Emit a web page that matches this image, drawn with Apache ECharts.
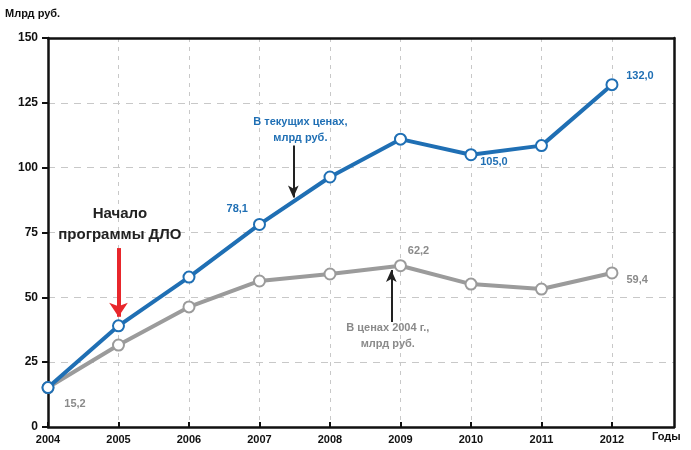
<!DOCTYPE html>
<html>
<head>
<meta charset="utf-8">
<script src="https://cdn.jsdelivr.net/npm/echarts@6/dist/echarts.min.js"></script>
<style>html,body{margin:0;padding:0;background:#fff}#c{width:691px;height:450px}</style>
</head>
<body>
<div id="c"></div>
<script>
// Годы и объёмы финансирования, млрд руб.
const years = [2004, 2005, 2006, 2007, 2008, 2009, 2010, 2011, 2012];
const currentPrices = [15.2, 39.0, 57.8, 78.1, 96.4, 111.0, 105.0, 108.5, 132.0];
const prices2004 = [15.2, 31.6, 46.3, 56.3, 59.0, 62.2, 55.1, 53.2, 59.4];
const yTicks = [0, 25, 50, 75, 100, 125, 150];

// Подписи значений у отдельных точек: индекс -> [положение, сдвиг]
const currentLabels = { 3: ['left', [0, -15]], 6: ['bottom', [23, -10]], 8: ['top', [28, 8]] };
const labels2004 = { 0: ['bottom', [27, -1]], 5: ['top', [18, 2]], 8: ['right', [3, 7]] };

const BLUE = '#1f6fb4';
const GRAY = '#9b9b9b';
const FONT = '"Liberation Sans", Arial, sans-serif';

function fmt(v) { return v.toFixed(1).replace('.', ','); }

function buildData(values, labelMap, color) {
  return values.map((v, i) => {
    const item = { value: [years[i], v] };
    if (labelMap[i]) {
      item.label = {
        show: true, position: labelMap[i][0], offset: labelMap[i][1], color: color,
        fontFamily: FONT, fontSize: 11, fontWeight: 'bold',
        formatter: p => fmt(p.value[1])
      };
    }
    return item;
  });
}

const axisLineStyle = { color: '#111', width: 2.5 };

const chart = echarts.init(document.getElementById('c'));
chart.setOption({
  animation: false,
  backgroundColor: '#fff',
  grid: { left: 48, right: 17, top: 38, bottom: 23 },
  xAxis: [{
    type: 'value', min: 2004, max: 2012.88, interval: 1,
    axisLine: { show: true, lineStyle: axisLineStyle },
    axisTick: { show: true, length: 5, inside: true, lineStyle: { color: '#111', width: 2 } },
    axisLabel: {
      color: '#111', fontFamily: FONT, fontSize: 11, fontWeight: 'bold', margin: 7,
      showMinLabel: true, showMaxLabel: false,
      formatter: v => years.includes(v) ? String(v) : ''
    },
    splitLine: { show: true, lineStyle: { color: '#c8c8c8', type: [4, 5], width: 1 } }
  }, {
    // верхняя рамка поля графика
    type: 'value', position: 'top', min: 2004, max: 2012.88,
    axisLine: { show: true, onZero: false, lineStyle: axisLineStyle },
    axisTick: { show: false }, axisLabel: { show: false }, splitLine: { show: false }
  }],
  yAxis: [{
    type: 'value', min: 0, max: 150, interval: 25,
    axisLine: { show: true, lineStyle: axisLineStyle },
    axisTick: { show: true, length: 6, lineStyle: { color: '#111', width: 2 } },
    axisLabel: {
      color: '#111', fontFamily: FONT, fontSize: 12, fontWeight: 'bold', margin: 10,
      formatter: v => yTicks.includes(v) ? String(v) : ''
    },
    splitLine: { show: true, lineStyle: { color: '#c8c8c8', type: [7, 6], width: 1 } }
  }, {
    // правая рамка поля графика
    type: 'value', position: 'right', min: 0, max: 150,
    axisLine: { show: true, onZero: false, lineStyle: axisLineStyle },
    axisTick: { show: false }, axisLabel: { show: false }, splitLine: { show: false }
  }],
  series: [
    {
      name: 'В ценах 2004 г., млрд руб.', type: 'line', z: 3,
      data: buildData(prices2004, labels2004, '#8a8a8a'),
      lineStyle: { color: GRAY, width: 4 },
      itemStyle: { color: '#fff', borderColor: GRAY, borderWidth: 2 },
      symbol: 'circle', symbolSize: 11, showAllSymbol: true,
      markLine: {
        silent: true, symbol: ['none', 'arrow'], symbolSize: [8, 12],
        lineStyle: { color: '#222', width: 2, type: 'solid' }, label: { show: false },
        data: [[{ coord: [2008.87, 40.5] }, { coord: [2008.87, 60.5] }]]
      },
      markPoint: {
        silent: true, symbol: 'circle', symbolSize: 0,
        label: { show: true, color: '#8a8a8a', fontFamily: FONT, fontSize: 11, fontWeight: 'bold', lineHeight: 16, align: 'center', formatter: 'В ценах 2004 г.,\nмлрд руб.' },
        data: [{ coord: [2008.82, 35] }]
      }
    },
    {
      name: 'В текущих ценах, млрд руб.', type: 'line', z: 4,
      data: buildData(currentPrices, currentLabels, BLUE),
      lineStyle: { color: BLUE, width: 4 },
      itemStyle: { color: '#fff', borderColor: BLUE, borderWidth: 2 },
      symbol: 'circle', symbolSize: 11, showAllSymbol: true,
      markLine: {
        silent: true, symbol: ['none', 'arrow'], symbolSize: [8, 12],
        lineStyle: { color: '#222', width: 2, type: 'solid' }, label: { show: false },
        data: [[{ coord: [2007.48, 108.5] }, { coord: [2007.48, 88.5] }]]
      },
      markPoint: {
        silent: true, symbol: 'circle', symbolSize: 0,
        label: { show: true, color: BLUE, fontFamily: FONT, fontSize: 11, fontWeight: 'bold', lineHeight: 16, align: 'center', formatter: 'В текущих ценах,\nмлрд руб.' },
        data: [{ coord: [2007.58, 114.5] }]
      }
    },
    {
      name: 'Начало программы ДЛО', type: 'line', z: 5, data: [], silent: true,
      markLine: {
        silent: true, symbol: ['none', 'arrow'], symbolSize: [14, 14],
        lineStyle: { color: '#e8262b', width: 4, type: 'solid' }, label: { show: false },
        data: [[{ coord: [2005, 69] }, { coord: [2005, 42.5] }]]
      },
      markPoint: {
        silent: true, symbol: 'circle', symbolSize: 0,
        label: { show: true, color: '#222', fontFamily: FONT, fontSize: 15, fontWeight: 'bold', lineHeight: 21, align: 'center', formatter: 'Начало\nпрограммы ДЛО' },
        data: [{ coord: [2005.02, 78] }]
      }
    }
  ],
  graphic: [
    { type: 'text', left: 5, top: 8, style: { text: 'Млрд руб.', fill: '#111', font: 'bold 11px "Liberation Sans", Arial, sans-serif' } },
    { type: 'text', left: 652, top: 431, style: { text: 'Годы', fill: '#111', font: 'bold 11px "Liberation Sans", Arial, sans-serif' } }
  ]
});
</script>
</body>
</html>
